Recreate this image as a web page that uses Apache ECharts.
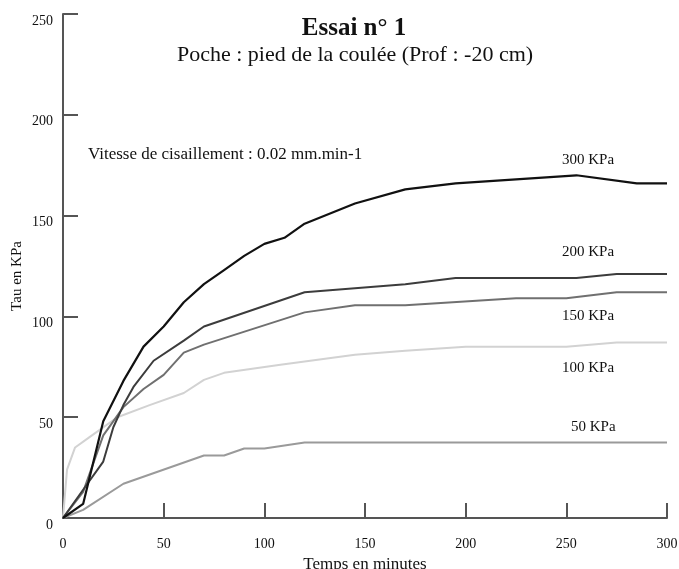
<!DOCTYPE html>
<html>
<head>
<meta charset="utf-8">
<script src="https://cdn.jsdelivr.net/npm/echarts@6/dist/echarts.min.js"></script>
<style>
html, body { margin: 0; padding: 0; background: #fff; }
#main { width: 679px; height: 569px; }
</style>
</head>
<body>
<div id="main"></div>
<script>
// données (temps en minutes, tau en KPa)
var t300 = [0, 10, 20, 30, 40, 50, 60, 70, 80, 90, 100, 110, 120, 145, 170, 195, 225, 255, 285, 300];
var v300 = [0, 7, 48, 68, 85, 95, 107, 116, 123, 130, 136, 139, 146, 156, 163, 166, 168, 170, 166, 166];

var t200 = [0, 10, 20, 25, 30, 35, 45, 60, 70, 120, 170, 195, 255, 275, 300];
var v200 = [0, 14, 28, 45, 56, 65, 78, 88, 95, 112, 116, 119, 119, 121, 121];

var t150 = [0, 10, 20, 30, 40, 50, 60, 70, 120, 145, 170, 225, 250, 275, 300];
var v150 = [0, 13, 41, 55, 64, 71, 82, 86, 102, 105.5, 105.5, 109, 109, 112, 112];

var t100 = [0, 2, 6, 13, 27, 43, 60, 70, 80, 108, 145, 170, 200, 250, 275, 300];
var v100 = [0, 24, 35, 40, 50, 56, 62, 68.5, 72, 76, 81, 83, 85, 85, 87, 87];

var t50 = [0, 10, 30, 70, 80, 90, 100, 120, 300];
var v50 = [0, 4, 17, 31, 31, 34.5, 34.5, 37.5, 37.5];

var xTicks = [0, 50, 100, 150, 200, 250, 300];

function pairs(t, v) {
    var out = [];
    for (var i = 0; i < t.length; i++) out.push([t[i], v[i]]);
    return out;
}

var serif = "'Liberation Serif', 'DejaVu Serif', serif";

function label(txt, x, y) {
    return {
        type: 'text', x: x, y: y,
        style: { text: txt, font: '15px ' + serif, fill: '#111', verticalAlign: 'middle' }
    };
}

var myChart = echarts.init(document.getElementById('main'));
var option = {
    backgroundColor: '#fff',
    animation: false,
    grid: { left: 63, right: 12, top: 14, bottom: 51, outerBoundsMode: 'none', containLabel: false },
    title: [
        {
            text: 'Essai n° 1',
            left: 349, top: 11, textAlign: 'center',
            textStyle: { fontFamily: serif, fontSize: 25, fontWeight: 'bold', color: '#111' }
        },
        {
            text: 'Poche : pied de la coulée (Prof : -20 cm)',
            left: 350, top: 39, textAlign: 'center',
            textStyle: { fontFamily: serif, fontSize: 22, fontWeight: 'normal', color: '#111' }
        }
    ],
    xAxis: {
        type: 'value',
        min: 0, max: 300, interval: 50,
        name: 'Temps en minutes',
        nameLocation: 'middle',
        nameGap: 38,
        nameTextStyle: { fontFamily: serif, fontSize: 17, color: '#111' },
        axisLine: { lineStyle: { color: '#555', width: 2 } },
        axisTick: { inside: true, length: 15, lineStyle: { color: '#555', width: 2 } },
        axisLabel: {
            margin: 19, color: '#111', fontFamily: serif, fontSize: 14,
            formatter: function (v) { return xTicks.indexOf(v) >= 0 ? String(v) : ''; }
        },
        splitLine: { show: false }
    },
    yAxis: {
        type: 'value',
        min: 0, max: 250, interval: 50,
        axisLine: { show: true, lineStyle: { color: '#555', width: 2 } },
        axisTick: { show: true, inside: true, length: 15, lineStyle: { color: '#555', width: 2 } },
        axisLabel: { margin: 10, color: '#111', fontFamily: serif, fontSize: 14, verticalAlign: 'top' },
        splitLine: { show: false }
    },
    graphic: [
        {
            type: 'text', x: 17, y: 276, rotation: Math.PI / 2,
            style: { text: 'Tau en KPa', font: '15px ' + serif, fill: '#111', align: 'center', verticalAlign: 'middle' }
        },
        { type: 'text', left: 88, top: 146, style: { text: 'Vitesse de cisaillement : 0.02 mm.min-1', font: '17px ' + serif, fill: '#111' } },
        label('300 KPa', 562, 160),
        label('200 KPa', 562, 252),
        label('150 KPa', 562, 316),
        label('100 KPa', 562, 368),
        label('50 KPa', 571, 427)
    ],
    series: [
        { name: '50 KPa', type: 'line', data: pairs(t50, v50), symbol: 'none', lineStyle: { color: '#9a9a9a', width: 2 } },
        { name: '100 KPa', type: 'line', data: pairs(t100, v100), symbol: 'none', lineStyle: { color: '#d2d2d2', width: 2 } },
        { name: '150 KPa', type: 'line', data: pairs(t150, v150), symbol: 'none', lineStyle: { color: '#707070', width: 2 } },
        { name: '200 KPa', type: 'line', data: pairs(t200, v200), symbol: 'none', lineStyle: { color: '#3c3c3c', width: 2 } },
        { name: '300 KPa', type: 'line', data: pairs(t300, v300), symbol: 'none', lineStyle: { color: '#111', width: 2.2 } }
    ]
};
myChart.setOption(option);
</script>
</body>
</html>
